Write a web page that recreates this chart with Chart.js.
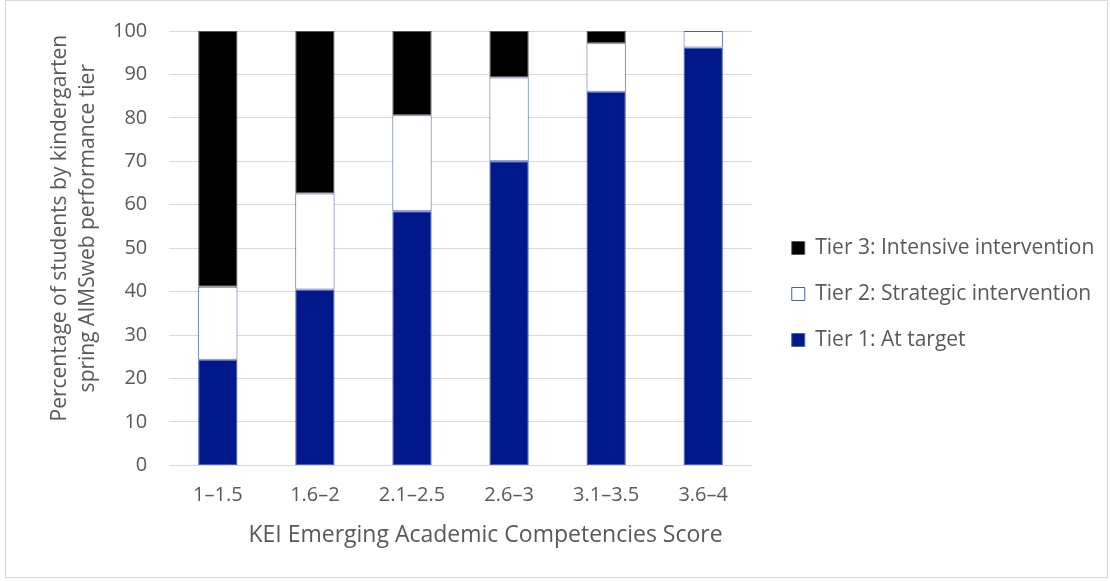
<!DOCTYPE html>
<html>
<head>
<meta charset="utf-8">
<script src="https://cdn.jsdelivr.net/npm/chart.js@4.4.1/dist/chart.umd.min.js"></script>
<style>
  html, body { margin: 0; padding: 0; background: #ffffff; }
  #frame { position: absolute; left: 5px; top: 0px; width: 1103px; height: 578px; border: 1px solid #d9d9d9; box-sizing: border-box; }
  #wrap { position: absolute; left: 0; top: 0; width: 1110px; height: 581px; }
</style>
</head>
<body>
<div id="frame"></div>
<div id="wrap"><canvas id="c" width="1110" height="581"></canvas></div>
<script>
const categories = ['1–1.5', '1.6–2', '2.1–2.5', '2.6–3', '3.1–3.5', '3.6–4'];
const tier1Values = [24.3, 40.5, 58.5, 70.0, 86.0, 96.2];
const tier2Values = [16.8, 22.1, 22.1, 19.3, 11.2, 3.8];
const tier3Values = [58.9, 37.4, 19.4, 10.7, 2.8, 0];
const seriesNames = ['Tier 1: At target', 'Tier 2: Strategic intervention', 'Tier 3: Intensive intervention'];
const yTitle = ['Percentage of students by kindergarten', 'spring AIMSweb performance tier'];
const xTitle = 'KEI Emerging Academic Competencies Score';

const TEXT = '#595959';
const FONT = "'Open Sans', 'Liberation Sans', sans-serif";

// Layout tweaks: legend placed a fixed gap right of the plot; axis titles nudged
const layoutTweaks = {
  id: 'layoutTweaks',
  afterLayout(chart) {
    const lg = chart.legend;
    if (lg) {
      const dx = chart.chartArea.right + 15 - lg.left;
      lg.left += dx;
      lg.right = chart.width;
      lg.width = lg.right - lg.left;
      lg.top += 5;
      lg.bottom += 5;
    }
    const shifts = { x: [25, 0], y: [0, -20] };
    for (const id of Object.keys(shifts)) {
      const sc = chart.scales[id];
      if (!sc || sc._titlePatched) continue;
      const orig = sc.drawTitle;
      const [sx, sy] = shifts[id];
      sc.drawTitle = function () {
        const ctx = this.ctx;
        ctx.save();
        ctx.translate(sx, sy);
        orig.apply(this, arguments);
        ctx.restore();
      };
      sc._titlePatched = true;
    }
  }
};

new Chart(document.getElementById('c'), {
  type: 'bar',
  data: {
    labels: categories,
    datasets: [
      { label: seriesNames[0], data: tier1Values, backgroundColor: '#00188a', borderColor: '#4a5cb4', borderWidth: 1, borderSkipped: false },
      { label: seriesNames[1], data: tier2Values, backgroundColor: '#ffffff', borderColor: '#4a5cb4', borderWidth: 1, borderSkipped: false },
      { label: seriesNames[2], data: tier3Values, backgroundColor: '#000000', borderColor: '#595959', borderWidth: 1, borderSkipped: false }
    ]
  },
  options: {
    responsive: false,
    animation: false,
    devicePixelRatio: 1,
    layout: { padding: { left: 46, top: 25, right: 123, bottom: 28 } },
    datasets: { bar: { categoryPercentage: 1.0, barPercentage: 0.405 } },
    plugins: {
      tooltip: { enabled: false },
      legend: {
        position: 'right',
        reverse: true,
        labels: {
          color: TEXT,
          font: { family: FONT, size: 21 },
          boxWidth: 13,
          boxHeight: 13,
          padding: 25
        }
      }
    },
    scales: {
      x: {
        stacked: true,
        grid: { display: false, drawTicks: false },
        border: { display: false },
        ticks: { color: TEXT, font: { family: FONT, size: 20 }, padding: 18, maxRotation: 0 },
        title: { display: true, text: xTitle, color: TEXT, font: { family: FONT, size: 23 }, padding: { top: -4, bottom: 4 } }
      },
      y: {
        stacked: true,
        min: 0,
        max: 100,
        ticks: { stepSize: 10, color: TEXT, font: { family: FONT, size: 20, lineHeight: 0.9 }, padding: 22 },
        grid: { color: '#d9d9d9', lineWidth: 1, drawTicks: false },
        border: { display: false },
        title: { display: true, text: yTitle, color: TEXT, font: { family: FONT, size: 21, lineHeight: 1.333 }, padding: { top: 0, bottom: -11 } }
      }
    }
  },
  plugins: [layoutTweaks]
});
</script>
</body>
</html>
